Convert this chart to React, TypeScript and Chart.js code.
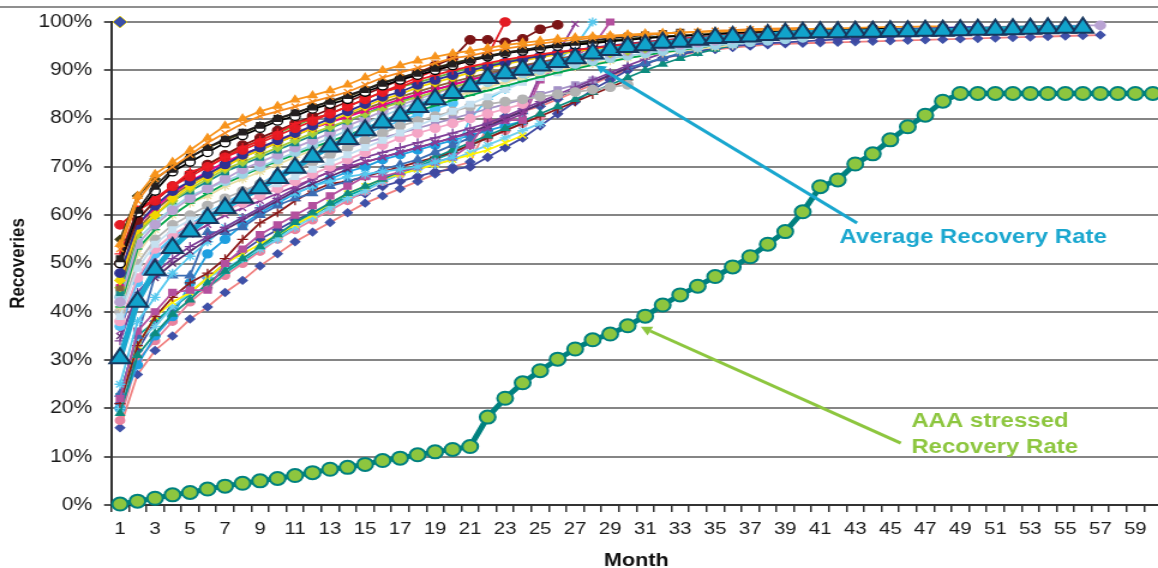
import React, { useEffect, useRef } from 'react';
import { Chart, registerables } from 'chart.js';

Chart.register(...registerables);

// ---------- categories ----------
const months = [
  '1','2','3','4','5','6','7','8','9','10','11','12','13','14','15','16','17','18','19','20',
  '21','22','23','24','25','26','27','28','29','30','31','32','33','34','35','36','37','38','39','40',
  '41','42','43','44','45','46','47','48','49','50','51','52','53','54','55','56','57','58','59','60',
];
const yTicks = [0, 10, 20, 30, 40, 50, 60, 70, 80, 90, 100];

// ---------- highlighted series (%) ----------
const avgRecovery = [
  30.4, 42.1, 48.7, 53.2, 56.6, 59.4, 61.5, 63.6, 65.6, 67.7,
  69.8, 72.1, 74.2, 75.8, 77.6, 79.2, 80.6, 82.4, 84.0, 85.3,
  86.7, 88.4, 89.4, 90.1, 91.0, 91.7, 92.5, 93.5, 94.2, 94.8,
  95.2, 95.7, 95.9, 96.3, 96.7, 96.9, 97.0, 97.3, 97.6, 97.8,
  97.9, 97.9, 98.0, 98.0, 98.1, 98.1, 98.2, 98.2, 98.3, 98.4,
  98.4, 98.5, 98.6, 98.7, 98.8, 98.8,
];
const aaaStressed = [
  0.2, 0.8, 1.4, 2.1, 2.6, 3.3, 3.9, 4.5, 5.0, 5.5,
  6.1, 6.7, 7.4, 7.8, 8.4, 9.2, 9.7, 10.4, 11.0, 11.5,
  12.1, 18.2, 22.1, 25.3, 27.8, 30.2, 32.3, 34.2, 35.4, 37.1,
  39.1, 41.4, 43.5, 45.3, 47.3, 49.3, 51.4, 54.0, 56.6, 60.7,
  65.9, 67.3, 70.6, 72.7, 75.6, 78.3, 80.7, 83.6, 85.2, 85.2,
  85.2, 85.2, 85.2, 85.2, 85.2, 85.2, 85.2, 85.2, 85.2, 85.2,
];

// ---------- vintage series (%) ----------
const h01 = [54,64,68.5,71,73.5,76,78.5,80,81.5,82.6,83.9,84.8,85.8,87,88.5,90,91,92,92.8,93.5,94,94.6,95.2,95.7,96.1,96.5,96.8,97,97.2,97.4,97.6,97.7,97.8,97.9,98,98.1,98.2,98.3,98.4,98.5,98.6,98.7,98.8,98.9,99,99,99.1,99.1];
const h02 = [53,63,67.5,70,72.5,75,77,79,80.5,81.5,82.5,83.5,84.5,85.5,87,88.5,89.5,90.5,91.5,92.5,93,93.8,94.5,95,95.5,96,96.3,96.7,97,97.2,97.4,97.6,97.8,98,98.2,98.3,98.5,98.6,98.7,98.8];
const h03 = [50,60.5,65,69,71,73,75,76.5,78,79.5,80.5,82,83,84,85.5,86.8,88,89,90,91,92,92.8,93.5,94,94.5,95,95.3,95.6,96,96.3,96.6,96.9,97.1,97.3,97.5,97.7,97.9,98,98.1,98.2,98.3,98.4,98.5,98.6,98.7];
const h04 = [55,64,67.5,70,72,74,75.5,77,78.5,80,81,82.5,83.5,84.5,86,87.5,88.5,89.5,90.5,91.5,92.3,93,93.7,94.2,94.7,95.1,95.5,95.9,96.2,96.5,96.8,97,97.2,97.4,97.6,97.8];
const h05 = [52,61,63.5,66,69,70,72,74,75.5,77,79,80,81,82.5,84,85.5,86.5,88,89,90,90.8,91.5,92.2,92.8,93.3,93.8,94.2,94.6,95,95.4,95.8,96.2,96.5,96.8,97.1,97.4,97.6,97.8,98];
const h06 = [48,58,62,65,67,68.5,70.5,72.5,74,75.5,77,78.5,80,81.5,83,84.5,85.5,87,88,89,90,90.8,91.6,92.3,93,93.6,94.2,94.7,95.1,95.5,95.9,96.2,96.5,96.8,97,97.2,97.4,97.6,97.8,98,98.1,98.2,98.3,98.4,98.5,98.6,98.7,98.8,98.9,99];
const h07 = [46.5,57,60,63.5,66,68,70,72,73.5,75,76.5,78,79.5,81,82.5,84,85,86.5,87.5,88.5,89.5,90.5,91.3,92,92.7,93.3,93.9,94.4,94.9,95.3,95.7,96,96.3,96.6,96.9,97.1,97.3,97.5,97.7,97.9,98,98.1];
const h08 = [47,59,63,66,68.5,70.5,72.5,74,75.5,77,78.5,80,81,82.5,84,85.5,86.5,87.5,88.5,89.5,90.5,91.2,91.9,92.5,93.1,93.6];
const h09 = [44,56,60,63,65,67,69,70.5,72,73.5,75,76.5,78,79.5,81,82.5,83.5,85,86,87,88,89,90,90.8,91.5,92.2,92.9,93.5,94,94.5,95,95.4,95.8,96.1,96.4,96.7,97,97.2,97.4,97.6,97.8,98,98.1,98.2,98.3,98.4,98.5,98.6,98.7,98.8,98.9,99,99.1,99.2];
const h10 = [43,55,58.5,61.5,64,65.5,67,68.5,70,71.5,73,74.5,76,77.5,79,80.5,82,83.5,84.5,85.5,86.5,87.5,88.5,89.3,90,90.7,91.3,91.9,92.5,93,93.5,94,94.4,94.8,95.2,95.5,95.8,96.1,96.4,96.7];
const h11 = [41,52,57,60,62.5,64,66,67.5,69,70.5,72,73.5,75,76.5,78,79.5,81,82.5,83.5,84.5,85.5,86.5,87.5,88.5,89.3,90,90.7,91.4,92,92.6,93.1,93.6,94,94.4,94.8,95.2];
const h12 = [40,50,55,58,60,62,63.5,65,66.5,68,69.5,71,72.5,74,75.5,77,78.5,79.5,80.5,81.5,82.5,83,83.5,84,84.5,85,85.5,86,86.5,87];
const h13 = [38,47,53,56,58,59.5,61,62.5,64,65.5,67,68.5,70,71.5,73,74.5,76,77,78,79,80,81,82,83];
const h14 = [51,61,66,69.5,72,74,75.8,77.2,78.6,80,81.2,82.4,83.6,84.8,86,87.3,88.4,89.4,90.4,91.3,92.1,92.9,93.6,94.2,94.8,95.3,95.8,96.2,96.6,97,97.3,97.6,97.9];
const h15 = [45,57,61,64,66.5,68.5,70.5,72,73.5,75,76.5,78,79.3,80.6,82,83.3,84.5,85.6,86.6,87.6,88.5,89.4,90.2,91,91.7,92.4,93,93.6,94.1,94.6,95,95.4,95.8,96.2,96.5,96.8,97.1,97.4];
const h16 = [42,54,58,61,63.5,65.5,67.5,69.5,71,72.5,74,75.5,77,78.5,80,81.5,82.8,84,85.2,86.3,87.3,88.3,89.2,90,90.8,91.5,92.2,92.8,93.4,93.9,94.4,94.9,95.3,95.7,96.1,96.5,96.8,97.1,97.4,97.6,97.8,98,98.2,98.4,98.5,98.6,98.7,98.8,98.9,99,99,99.1,99.1,99.2,99.2,99.3,99.3];
const h17 = [45,56,60,63,65.5,67.5,69.5,71,72.5,74,75.5,77,78.3,79.6,81,82.2,83.4,84.5,85.5,86.5,87.5,88.4,89.3,90.1,90.9,91.6,92.3,92.9,93.5,94,94.5];
const h18 = [46,58,61.5,64.5,67,69,71,72.6,74,75.4,76.8,78,79.2,80.4,81.6,82.8,84,85,86,87,88,88.9,89.8,90.6,91.4,92.1,92.8,93.4,94,94.5,95,95.5,95.9,96.3,96.7,97.1,97.4,97.7,98];
const h19 = [41,53,57,60,62.5,64.5,66.5,68.2,69.8,71.2,72.6,74,75.3,76.6,77.9,79.2,80.4,81.6,82.7,83.8,84.8,85.8,86.8,87.7,88.6,89.5,90.3,91.1,91.8,92.5,93.1,93.7,94.2,94.7,95.2,95.6,96,96.4];
const h20 = [37,46,52,55.5,58,60.5,62.5,64.5,66.5,68.5,70.5,72.2,73.8,75.3,76.8,78.2,79.5,80.8,82,83.2];
const h21 = [39,49,54,57,59,60.5,62,63.5,65,66.5,68,69.5,71,72.5,74,75.5,77,78.5,80,81.5,83,84.5,86,87.5,88.5,89.5];
const l01 = [16,27,32,35,38.5,41,44,46.5,49.5,52,54.5,56.5,58.5,60.5,62.5,64,65.5,67,68.5,70,71,78.5,80.5,81.5,82.5,84,85.5,87,88.8,90,91.3,92.5,93.2,93.8,94.3,94.7,95,95.3,95.5,95.6,95.7,95.8,95.9,96,96.1,96.2,96.3,96.4,96.5,96.6,96.7,96.8,96.9,97,97.1,97.2,97.3];
const l02 = [21,32,38,40.5,44,47,50,52.5,55,57,59,60.5,62,63.5,64.5,66,67,68,69,69.5,70,72,74,76,78.5,81,83.5,86,88,90,91.3,92.5,93.3,94,94.5,95,95.3,95.6,95.8,96,96.2,96.4,96.6,96.8,97,97.2,97.4,97.6,97.8,98,98.1,98.2,98.3,98.4,98.5];
const l03 = [22,36,40,44,44.5,44.5,50,53,56,58,60,62,64,66,68,68,69,70,71,72,74.5,79.7,79.7,79.7,88,91,93,95,100];
const l04 = [25,38,43,48,51.5,54.5,57.5,59.5,61.5,63,64.5,66,67,68,68.5,69,69.5,70,71,72,80,84,86,88,90,92,95,100];
const l05 = [58,61,63,66,68,70,72,73.5,75,76.5,78,79.5,81,82.5,84,85.5,87,88.5,90,91,92,93,100];
const l06 = [50,59,63,66,68.5,70.5,72.5,74.5,76,77.5,79,80.5,82,83.5,85,86.5,88,89.5,91,92.5,96.3,96.3,95.8,96.5,98.5,99.4];
const l07 = [36,47,51,54,56,58,60,61.5,63,64.5,66,67.5,69,70,71,72,73,74,75,76,77,78,79.5,81,89,93.5,99.6];
const l08 = [23,35,47.5,47.5,47.5,56.5,56.5,57.5,60,62,63.5,64.5,66,67,68,69.5,70.5,71.5,73,74.5,76,78,80,81.5,83,84.5,86,87.5,89,90.5,91.5,92.5,93.5,94.3,95,95.5,96,96.4,96.8,97.1,97.4,97.7,98];
const l09 = [21,33,39,43,46,48,51,55,58.4,60.5,63,65,66.5,67,68,69,70,71,72,73,74.5,76,77.5,79,80.5,82,83.5,85,86.5,88];
const l10 = [22,33,39,42,44,47,50,52,54,56,58,60,62.5,64.5,66,67.5,68.5,69.5,70.5,71.5,72.5,73.5,75,76.5];
const l11 = [20,34,37,41,44,47,49,51,53,55,57.5,59.5,61.5,63.5,65,67,68.5,69.5,70.5,71.5,73,74.5,76,77.5,79];
const l12 = [19,31,35.5,39.5,42.5,46,48.5,51,53.5,56,58.5,60.5,62.5,64.5,66,67.5,69,70.5,72,73.5,75,76.5,78,79.5,81,82.5,84,85.5,87,88.5,90,91.3,92.5,93.5,94.4,95.2,96,96.7,97.3,97.8];
const l13 = [20,29,35,39,46,52,55,58,60.5,62.5,64.5,66,67.5,69,70,71.5,72.5,73.5,74.5,75.5,76.5,77.5,78.5,79.5];
const l14 = [34,44,48,51,53.5,55.5,57.5,59.5,61.5,63.5,65.5,67.5,69,70.5,72,73,74,75,76,77,78,79,80.5,82,83.5,85,86.5,88,89.5,91,92.3,93.5,94.5,95.3,96,96.6,97.1,97.6];
const l15 = [35,43,47,50,52.5,55,57,59,61,63,65,66.5,68,69.5,71,72,73,74,75,76,77.2,78.5,80,81.5,83,84.5,86,87.5,89,90.5];
const l16 = [17.5,30,34,38,42,45,47.5,50,52.5,55,57,59,61,63,65,67,68.5,70,71.5,73,74.5,76,77.5,79,80.5];
const l17 = [23,35,38,41,43.5,45,48,50.5,53,55.5,58,60,62,64,65.5,67,68.5,70,71.5,73,74.5,76];
const l18 = [37,47,52,55,57.5,60,62,64,66,68,69.5,71,72.5,74,75,76,77,78,79,80,81,82,83,84,85,86,87,88];
const l19 = [100];

const vintages = [h01,h02,h14,h03,h04,h05,l05,l06,h06,h07,h18,h08,h15,h17,h09,h16,h10,h19,h11,h21,h12,h13,h20,l07,l14,l18,l15,l04,l03,l08,l12,l09,l10,l11,l13,l17,l16,l02,l01,l19];
const vintageLine = ['#F7941D','#F68B1F','#231F20','#000000','#3B3B14','#ED1C24','#E31B23','#7B1416','#2E3192','#F2D600','#EC008C','#6AB43E','#8C6239','#A6CE39','#178A88','#B9A3D3','#9DD3E6','#00A651','#E8DDA0','#C5E0F0','#B3B3B3','#F4A6C6','#4FC3F7','#8E3C97','#7E3F98','#A593C7','#5B2C6F','#55C8EE','#B4509E','#3C6EB4','#0E8C7F','#8B1A1A','#FFF200','#6FD0EE','#1E9FE0','#00A99D','#E9829E','#3F48A0','#F08080','#3F51A8'];
const vintageFill = ['#F7941D','#F68B1F','#231F20','#FFFFFF','#3B3B14','#ED1C24','#E31B23','#7B1416','#2E3192','#F2D600','#EC008C','#6AB43E','#8C6239','#A6CE39','#178A88','#B9A3D3','#9DD3E6','#00A651','#E8DDA0','#C5E0F0','#B3B3B3','#F4A6C6','#4FC3F7','#8E3C97','#7E3F98','#A593C7','#5B2C6F','#55C8EE','#B4509E','#3C6EB4','#0E8C7F','#8B1A1A','#FFF200','#6FD0EE','#1E9FE0','#00A99D','#E9829E','#3F48A0','#3F51A8','#3A4FA8'];
const vintageEdge = ['#F7941D','#F68B1F','#231F20','#000000','#3B3B14','#ED1C24','#E31B23','#7B1416','#2E3192','#F2D600','#EC008C','#6AB43E','#8C6239','#A6CE39','#178A88','#B9A3D3','#9DD3E6','#00A651','#E8DDA0','#C5E0F0','#B3B3B3','#F4A6C6','#4FC3F7','#8E3C97','#7E3F98','#A593C7','#5B2C6F','#55C8EE','#B4509E','#3C6EB4','#0E8C7F','#8B1A1A','#FFF200','#6FD0EE','#1E9FE0','#00A99D','#E9829E','#3F48A0','#3F51A8','#E8D000'];
const vintageShape = ['triangle','crossRot','rect','circle','rectRot','cross','circle','circle','circle','rectRot','crossRot','triangle','rect','rectRot','rect','circle','circle','line','star','rect','circle','circle','circle','crossRot','cross','rect','crossRot','star','rect','triangle','triangle','cross','crossRot','star','circle','line','circle','rectRot','rectRot','rectRot'];
const vintageRadius = [4.2,4.2,4,4.2,4,4.5,4.2,4.2,4.2,4.2,4.2,4,4,4,4,4.2,4.2,4,4.5,4,4.2,4.2,4,4.2,4.5,4,4.2,4.5,4.2,4.5,4,4.5,4.2,4.5,4,4,3.8,4,3.8,6];
const vintageEdgeWidth = [1.3,1.3,1.3,1.3,1.3,1.3,1.3,1.3,1.3,1.3,1.3,1.3,1.3,1.3,1.3,1.3,1.3,1.3,1.3,1.3,1.3,1.3,1.3,1.3,1.3,1.3,1.3,1.3,1.3,1.3,1.3,1.3,1.3,1.3,1.3,1.3,1.3,1.3,1.3,0.8];

// ---------- annotations (month, %) ----------
const avgArrow = [43.1, 58.4, 28.2, 91.0];
const aaaArrow = [45.6, 12.8, 30.75, 36.9];
const avgLabel = { text: ['Average Recovery Rate'], month: 42.1, value: 55.3 };
const aaaLabel = { text: ['AAA stressed', 'Recovery Rate'], month: 46.2, value: 17.2 };

const FONT = '"Liberation Sans", Arial, Helvetica, sans-serif';
const AVG_COLOR = '#1AA7CF';
const AAA_COLOR = '#8DC63F';

function drawArrow(ctx: CanvasRenderingContext2D, x1: number, y1: number, x2: number, y2: number, color: string, width: number, head: number) {
  const ang = Math.atan2(y2 - y1, x2 - x1);
  const bx = x2 - Math.cos(ang) * head;
  const by = y2 - Math.sin(ang) * head;
  ctx.save();
  ctx.strokeStyle = color;
  ctx.fillStyle = color;
  ctx.lineWidth = width;
  ctx.beginPath();
  ctx.moveTo(x1, y1);
  ctx.lineTo(bx, by);
  ctx.stroke();
  ctx.beginPath();
  ctx.moveTo(x2, y2);
  ctx.lineTo(bx + Math.sin(ang) * head * 0.55, by - Math.cos(ang) * head * 0.55);
  ctx.lineTo(bx - Math.sin(ang) * head * 0.55, by + Math.cos(ang) * head * 0.55);
  ctx.closePath();
  ctx.fill();
  ctx.restore();
}

const notesPlugin = {
  id: 'notes',
  beforeDraw(chart: any) {
    const { ctx, chartArea } = chart;
    ctx.save();
    ctx.strokeStyle = '#6a6a6a';
    ctx.lineWidth = 1.5;
    ctx.beginPath();
    ctx.moveTo(0, chartArea.top - 15);
    ctx.lineTo(chart.width, chartArea.top - 15);
    ctx.stroke();
    ctx.restore();
  },
  afterDatasetsDraw(chart: any) {
    const { ctx } = chart;
    const xs = chart.scales.x;
    const ys = chart.scales.y;
    const px = (m: number) => xs.getPixelForValue(m - 1);
    const py = (v: number) => ys.getPixelForValue(v);
    drawArrow(ctx, px(avgArrow[0]), py(avgArrow[1]), px(avgArrow[2]), py(avgArrow[3]), AVG_COLOR, 3, 8);
    drawArrow(ctx, px(aaaArrow[0]), py(aaaArrow[1]), px(aaaArrow[2]), py(aaaArrow[3]), AAA_COLOR, 3, 9);
    ctx.save();
    ctx.font = `bold 20px ${FONT}`;
    ctx.textAlign = 'left';
    ctx.textBaseline = 'middle';
    ctx.fillStyle = AVG_COLOR;
    avgLabel.text.forEach((t, i) => ctx.fillText(t, px(avgLabel.month), py(avgLabel.value) + i * 26));
    ctx.fillStyle = AAA_COLOR;
    aaaLabel.text.forEach((t, i) => ctx.fillText(t, px(aaaLabel.month), py(aaaLabel.value) + i * 26));
    ctx.restore();
  },
};

export default function App() {
  const ref = useRef<HTMLCanvasElement | null>(null);

  useEffect(() => {
    if (!ref.current) return;
    const datasets: any[] = [
      {
        label: 'Average Recovery Rate',
        data: avgRecovery,
        borderColor: AVG_COLOR,
        borderWidth: 5,
        pointStyle: 'triangle',
        pointRadius: 10,
        pointBackgroundColor: '#11A3CB',
        pointBorderColor: '#17375E',
        pointBorderWidth: 2,
        clip: false,
      },
      {
        label: 'AAA stressed Recovery Rate',
        data: aaaStressed,
        borderColor: '#00817F',
        borderWidth: 5,
        pointStyle: 'circle',
        pointRadius: 6.5,
        pointBackgroundColor: '#8DC63F',
        pointBorderColor: '#00817F',
        pointBorderWidth: 2,
        clip: false,
      },
    ];
    vintages.forEach((v, i) => {
      datasets.push({
        label: `Vintage ${i + 1}`,
        data: v,
        borderColor: vintageLine[i],
        borderWidth: 1.8,
        pointStyle: vintageShape[i],
        pointRadius: vintageRadius[i],
        pointBackgroundColor: vintageFill[i],
        pointBorderColor: vintageEdge[i],
        pointBorderWidth: vintageEdgeWidth[i],
        clip: false,
      });
    });

    const chart = new Chart(ref.current, {
      type: 'line',
      data: { labels: months, datasets },
      options: {
        responsive: false,
        maintainAspectRatio: false,
        animation: false,
        devicePixelRatio: 1,
        layout: { padding: { top: 22, right: 5, left: 0, bottom: 0 } },
        plugins: { legend: { display: false }, tooltip: { enabled: false } },
        elements: { line: { tension: 0 } },
        scales: {
          x: {
            type: 'category',
            offset: true,
            afterFit: (s: any) => { s.height = 63; },
            grid: { offset: true, drawOnChartArea: false, drawTicks: true, tickLength: 7, tickColor: '#333', lineWidth: 1.5 },
            border: { color: '#333', width: 2 },
            ticks: {
              autoSkip: false,
              maxRotation: 0,
              padding: 7,
              color: '#1a1a1a',
              font: { family: FONT, size: 17 },
              callback: (_v: any, idx: number) => (idx % 2 === 0 ? months[idx] : ''),
            },
            title: {
              display: true,
              text: 'Month',
              color: '#111',
              font: { family: FONT, size: 18, weight: 'bold', lineHeight: 1 },
              padding: { top: 0, bottom: -2 },
            },
          },
          y: {
            min: yTicks[0],
            max: yTicks[yTicks.length - 1],
            afterFit: (s: any) => { s.width = 92.7; },
            afterBuildTicks: (s: any) => { s.ticks = yTicks.map((v) => ({ value: v })); },
            grid: { color: '#858585', lineWidth: 2, tickLength: 6, tickColor: '#555' },
            border: { color: '#333', width: 2 },
            ticks: {
              padding: 10,
              color: '#1a1a1a',
              font: { family: FONT, size: 17.5 },
              callback: (v: any) => `${v}%`,
            },
            title: {
              display: true,
              text: 'Recoveries',
              color: '#111',
              font: { family: FONT, size: 17, weight: 'bold' },
              padding: { top: 5, bottom: 0 },
            },
          },
        },
      } as any,
      plugins: [notesPlugin],
    });
    return () => chart.destroy();
  }, []);

  return (
    <div style={{ position: 'absolute', left: 0, top: 0, width: 1158, height: 568, overflow: 'hidden', background: '#fff' }}>
      <canvas ref={ref} width={980} height={568} style={{ width: '1176px', height: '568px', display: 'block' }} />
    </div>
  );
}
